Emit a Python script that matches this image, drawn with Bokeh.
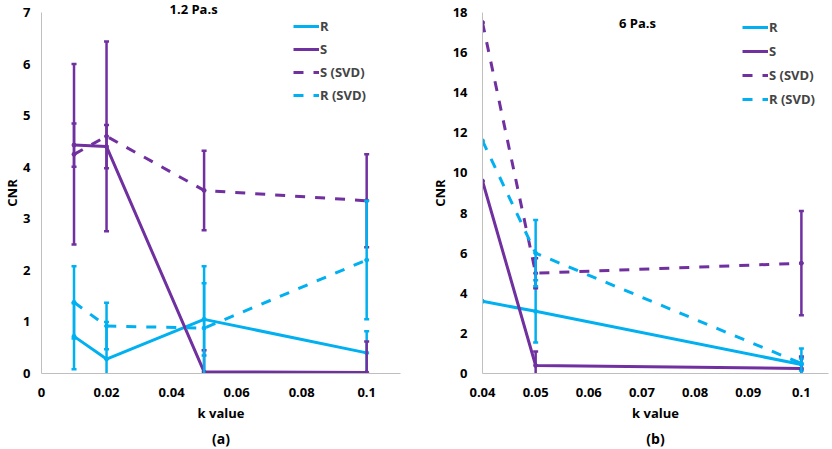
from bokeh.plotting import figure
from bokeh.layouts import row
from bokeh.models import ColumnDataSource, FixedTicker, Label, Title
from bokeh.embed import file_html
from bokeh.resources import INLINE

# ---------------- data ----------------
# panel (a) 1.2 Pa.s
k_a = [0.01, 0.02, 0.05, 0.1]
R_a = [0.72, 0.28, 1.05, 0.40]
R_a_err = [0.64, 0.72, 0.70, 0.42]
S_a = [4.43, 4.40, 0.03, 0.02]
S_a_err = [0.42, 0.42, 0.42, 0.60]
Ssvd_a = [4.25, 4.60, 3.55, 3.35]
Ssvd_a_err = [1.75, 1.84, 0.77, 0.90]
Rsvd_a = [1.38, 0.92, 0.88, 2.20]
Rsvd_a_err = [0.70, 0.45, 1.20, 1.15]

# panel (b) 6 Pa.s
k_b = [0.04, 0.05, 0.1]
R_b = [3.6, 3.1, 0.45]
R_b_err = [0.0, 1.55, 0.30]
S_b = [9.6, 0.40, 0.25]
S_b_err = [0.0, 0.70, 0.60]
Ssvd_b = [17.5, 5.0, 5.5]
Ssvd_b_err = [0.0, 0.75, 2.60]
Rsvd_b = [11.6, 6.0, 0.5]
Rsvd_b_err = [0.0, 1.65, 0.75]

series_names = ["R", "S", "S (SVD)", "R (SVD)"]
xticks_a = [0, 0.02, 0.04, 0.06, 0.08, 0.1]
xtick_labels_a = ["0", "0.02", "0.04", "0.06", "0.08", "0.1"]
yticks_a = [0, 1, 2, 3, 4, 5, 6, 7]
xticks_b = [0.04, 0.05, 0.06, 0.07, 0.08, 0.09, 0.1]
xtick_labels_b = ["0.04", "0.05", "0.06", "0.07", "0.08", "0.09", "0.1"]
yticks_b = [0, 2, 4, 6, 8, 10, 12, 14, 16, 18]

CYAN = "#00B0F0"
PURPLE = "#7030A0"
FONT = "Open Sans"
styles = [(CYAN, "solid"), (PURPLE, "solid"), (PURPLE, "10 10"), (CYAN, "10 10")]


def make_panel(k, series, errs, xr, yr, xticks, xlabels, yticks,
               legend_loc, legend_spacing, minb_left, minb_right,
               ylab_standoff, ytick_standoff, tag):
    p = figure(width=416, height=449, x_range=xr, y_range=yr,
               output_backend="svg", toolbar_location=None,
               min_border_left=minb_left, min_border_right=minb_right,
               min_border_top=12, min_border_bottom=76)
    p.outline_line_color = None
    p.xgrid.visible = False
    p.ygrid.visible = False
    for ax in (p.xaxis[0], p.yaxis[0]):
        ax.axis_line_color = "#BFBFBF"
        ax.axis_line_width = 1
        ax.major_tick_line_color = None
        ax.minor_tick_line_color = None
        ax.major_tick_out = 0
        ax.major_tick_in = 0
        ax.minor_tick_out = 0
        ax.minor_tick_in = 0
        ax.major_label_text_font = FONT
        ax.major_label_text_font_style = "bold"
        ax.major_label_text_font_size = "13px"
        ax.major_label_text_color = "#000000"
        ax.axis_label_text_font = FONT
        ax.axis_label_text_font_style = "bold"
        ax.axis_label_text_font_size = "13px"
        ax.axis_label_text_color = "#000000"
    p.xaxis.ticker = FixedTicker(ticks=xticks)
    p.xaxis.major_label_overrides = {t: l for t, l in zip(xticks, xlabels)}
    p.xaxis.major_label_standoff = 14
    p.xaxis.axis_label = "k value"
    p.xaxis.axis_label_standoff = 4
    p.yaxis.ticker = FixedTicker(ticks=yticks)
    p.yaxis.major_label_standoff = ytick_standoff
    p.yaxis.axis_label = "CNR"
    p.yaxis.axis_label_standoff = ylab_standoff

    for name, vals, err, (col, dash) in zip(series_names, series, errs, styles):
        ex = [x for x, e in zip(k, err) if e > 0]
        lo = [v - e for v, e in zip(vals, err) if e > 0]
        hi = [v + e for v, e in zip(vals, err) if e > 0]
        if ex:
            es = ColumnDataSource(dict(x=ex, lo=lo, hi=hi))
            p.segment(x0="x", y0="lo", x1="x", y1="hi", source=es,
                      line_color=col, line_width=2.5)
            p.scatter(x="x", y="lo", source=es, marker="dash", size=5,
                      line_color=col, line_width=2.5)
            p.scatter(x="x", y="hi", source=es, marker="dash", size=5,
                      line_color=col, line_width=2.5)
        src = ColumnDataSource(dict(x=k, y=vals))
        p.line(x="x", y="y", source=src, line_color=col, line_width=3,
               line_dash=dash, legend_label=name)
        p.scatter(x="x", y="y", source=src, marker="circle", size=4,
                  fill_color=col, line_color=col)

    lg = p.legend[0]
    lg.location = legend_loc
    lg.padding = 0
    lg.margin = 0
    lg.spacing = legend_spacing
    lg.glyph_width = 26
    lg.glyph_height = 20
    lg.label_height = 20
    lg.label_standoff = 1
    lg.label_text_font = FONT
    lg.label_text_font_style = "bold"
    lg.label_text_font_size = "13px"
    lg.background_fill_alpha = 0
    lg.border_line_color = None

    p.add_layout(Title(text=tag, align="center", text_font=FONT,
                       text_font_style="bold", text_font_size="14px",
                       text_color="#000000", standoff=4), "below")
    return p


pa = make_panel(k_a, [R_a, S_a, Ssvd_a, Rsvd_a],
                [R_a_err, S_a_err, Ssvd_a_err, Rsvd_a_err],
                (0, 0.1104), (0, 7), xticks_a, xtick_labels_a, yticks_a,
                (252, 268), 3, 40, 16, -1, 11, "(a)")
pb = make_panel(k_b, [R_b, S_b, Ssvd_b, Rsvd_b],
                [R_b_err, S_b_err, Ssvd_b_err, Rsvd_b_err],
                (0.04, 0.1051), (0, 18), xticks_b, xtick_labels_b, yticks_b,
                (260, 264), 4, 66, 4, 1, 15, "(b)")

# panel titles
pa.add_layout(Title(text="1.2 Pa.s", align="left", offset=128, standoff=-11,
                    vertical_align="bottom", text_font=FONT,
                    text_font_style="bold", text_font_size="13px",
                    text_color="#000000"), "above")
pb.add_layout(Label(x=155, y=351, x_units="screen", y_units="screen",
                    text="6 Pa.s", text_font=FONT, text_font_style="bold",
                    text_font_size="13px", text_color="#000000",
                    text_align="center", text_baseline="middle"))

layout = row(pa, pb)
open("out.html", "w").write(file_html(layout, INLINE))
